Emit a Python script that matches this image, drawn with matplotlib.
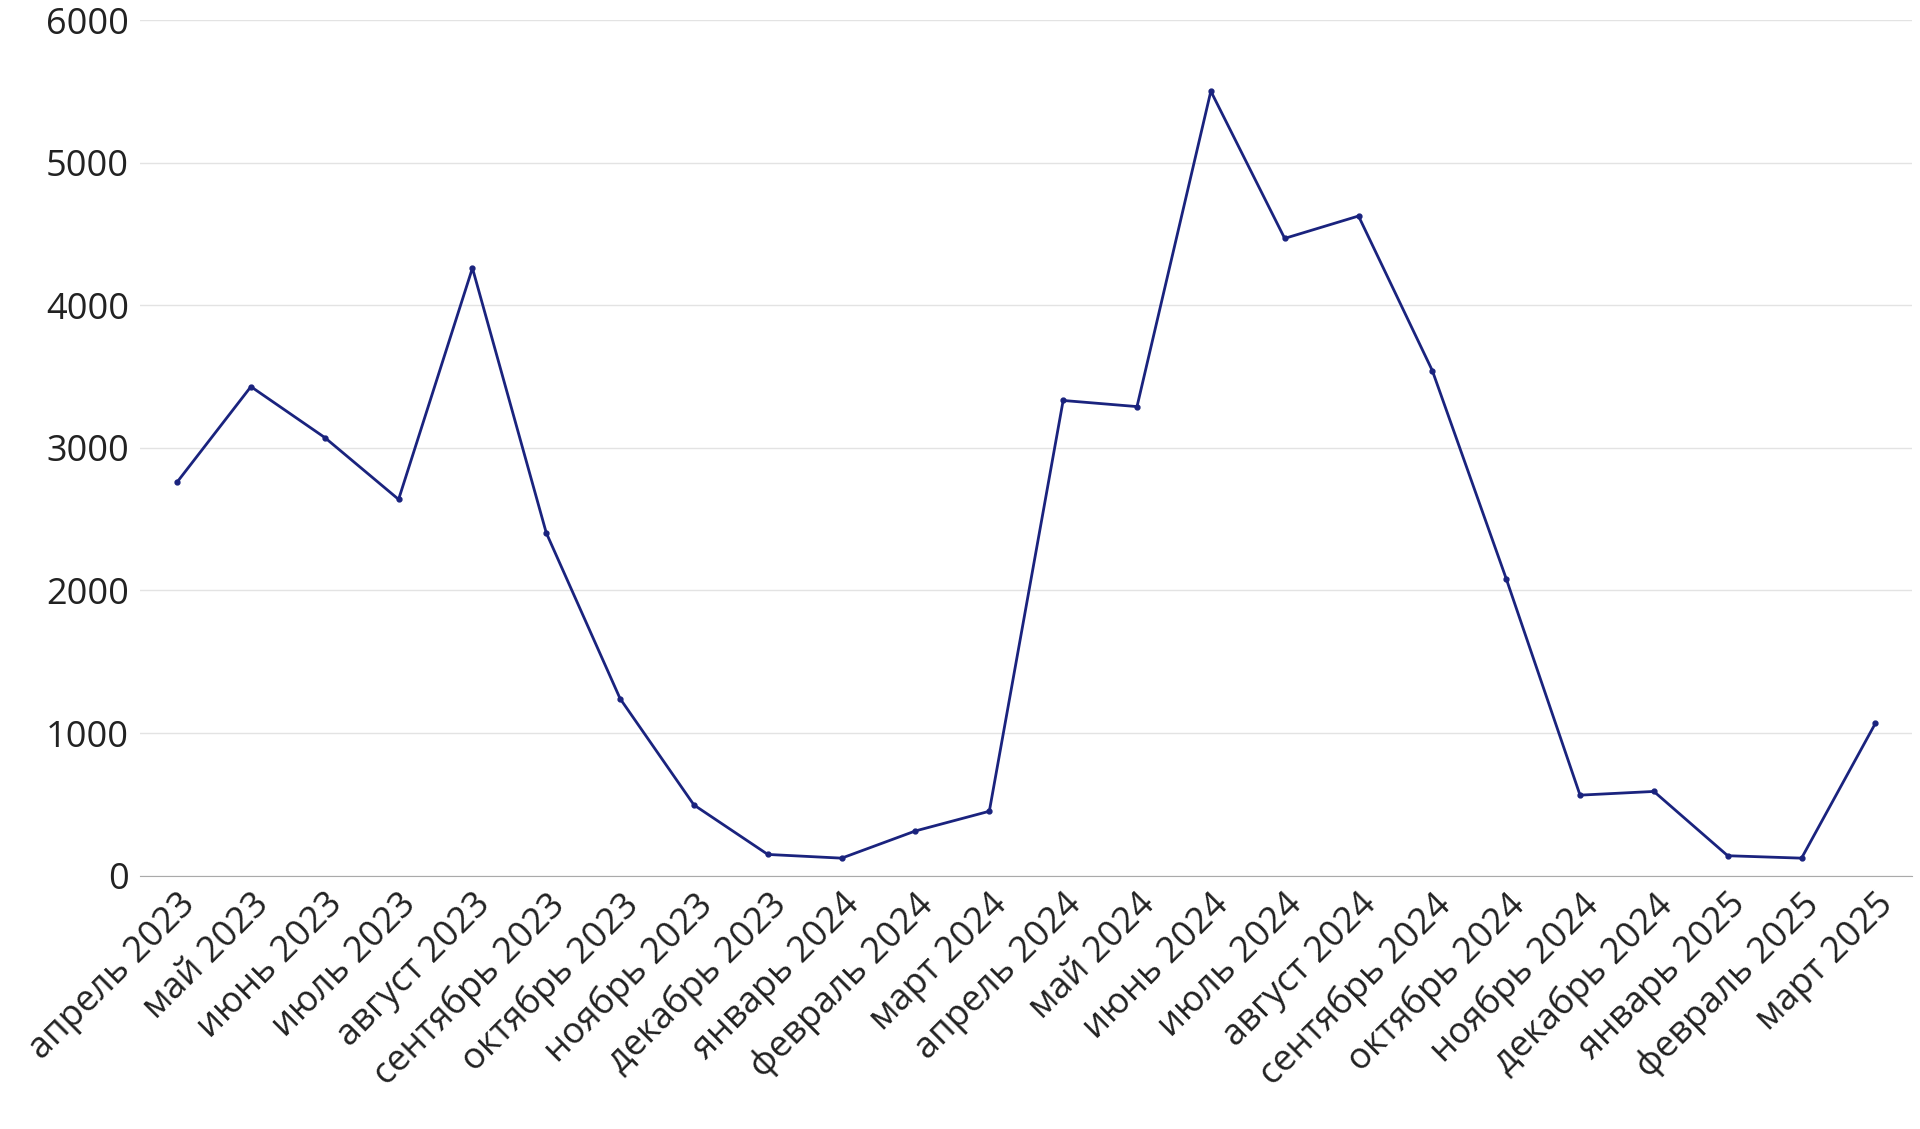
import matplotlib
matplotlib.use("Agg")
import matplotlib.pyplot as plt

months = ["апрель 2023", "май 2023", "июнь 2023", "июль 2023", "август 2023",
          "сентябрь 2023", "октябрь 2023", "ноябрь 2023", "декабрь 2023",
          "январь 2024", "февраль 2024", "март 2024", "апрель 2024", "май 2024",
          "июнь 2024", "июль 2024", "август 2024", "сентябрь 2024", "октябрь 2024",
          "ноябрь 2024", "декабрь 2024", "январь 2025", "февраль 2025", "март 2025"]
values = [2760, 3430, 3073, 2639, 4262, 2404, 1241, 495, 148, 122, 313, 451,
          3333, 3290, 5503, 4470, 4627, 3542, 2083, 564, 590, 139, 122, 1068]

plt.rcParams["font.family"] = ["Open Sans", "DejaVu Sans"]

fig = plt.figure(figsize=(19.2, 11.29), dpi=100)
ax = fig.add_axes([0.073, 0.2245, 0.923, 0.7575])
x = list(range(len(months)))
ax.plot(x, values, color="#1a237e", lw=2, marker="o", ms=3.5)
ax.set_xlim(-0.5, len(months) - 0.5)
ax.set_ylim(0, 6000)
ax.set_yticks(range(0, 6001, 1000))
ax.grid(axis="y", color="#e3e3e3", lw=1)
ax.set_axisbelow(True)
for s in ["top", "right", "left"]:
    ax.spines[s].set_visible(False)
ax.spines["bottom"].set_color("#aaaaaa")
ax.tick_params(length=0, labelsize=26, colors="#222222", pad=8)
ax.set_xticks(x)
ax.set_xticklabels(months, rotation=45, ha="right", rotation_mode="anchor")
fig.savefig("out.png", dpi=100)
